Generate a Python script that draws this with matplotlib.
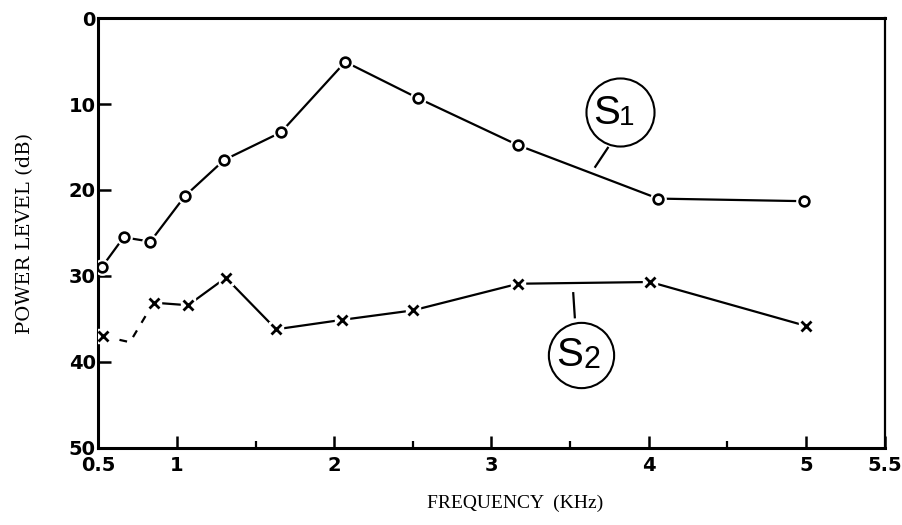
import numpy as np
import matplotlib
matplotlib.use("Agg")
from matplotlib import pyplot as plt

# Frequency (kHz) and power level (dB) for the two sources
s1_freq = [0.52, 0.66, 0.83, 1.05, 1.30, 1.66, 2.07, 2.53, 3.17, 4.06, 4.99]
s1_level = [29.0, 25.5, 26.0, 20.7, 16.5, 13.3, 5.1, 9.3, 14.8, 21.0, 21.3]

s2_freq = [0.53, 0.70, 0.85, 1.07, 1.31, 1.63, 2.05, 2.50, 3.17, 4.01, 5.00]
s2_level = [37.0, 37.7, 33.1, 33.4, 30.2, 36.2, 35.1, 34.0, 30.9, 30.7, 35.8]

x_ticks = [0.5, 1, 2, 3, 4, 5, 5.5]
x_minor = [1.5, 2.5, 3.5, 4.5]
y_ticks = [0, 10, 20, 30, 40, 50]

fig = plt.figure(figsize=(9.02, 5.25), dpi=100)
ax = fig.add_axes([0.1092, 0.1467, 0.8714, 0.819])

ax.set_xlim(0.5, 5.5)
ax.set_ylim(50, 0)

# S1: open circles, line stops short of each marker
ax.plot(s1_freq, s1_level, color="black", lw=1.6, zorder=2)
ax.plot(s1_freq, s1_level, ls="none", marker="o", ms=11, mfc="white",
        mec="white", zorder=3)
ax.plot(s1_freq, s1_level, ls="none", marker="o", ms=7, mfc="white",
        mec="black", mew=1.9, zorder=4)

# S2: crosses, the first two segments are broken
ax.plot(s2_freq[:3], s2_level[:3], color="black", lw=1.6,
        ls=(0, (3.5, 4)), zorder=2)
ax.plot(s2_freq[2:], s2_level[2:], color="black", lw=1.6, zorder=2)
shown = [i for i in range(len(s2_freq)) if i != 1]
ax.plot([s2_freq[i] for i in shown], [s2_level[i] for i in shown],
        ls="none", marker="s", ms=10, mfc="white", mec="white", zorder=3)
ax.plot([s2_freq[i] for i in shown], [s2_level[i] for i in shown],
        ls="none", marker="x", ms=6.5, mec="black", mew=2.0, zorder=4)

# Circled series labels with leader lines
ax.plot([3.74, 3.66], [15.1, 17.3], color="black", lw=1.6, zorder=2)
ax.plot([3.82], [10.9], marker="o", ms=49, mfc="white", mec="black",
        mew=1.5, zorder=5)
ax.text(3.815, 11.0, "S", fontsize=29, ha="right", va="center",
        family="Liberation Sans", zorder=6)
ax.text(3.81, 11.6, "1", fontsize=20, ha="left", va="center",
        family="Liberation Sans", zorder=6)

ax.plot([3.52, 3.53], [32.0, 34.8], color="black", lw=1.6, zorder=2)
ax.plot([3.57], [39.2], marker="o", ms=47, mfc="white", mec="black",
        mew=1.5, zorder=5)
ax.text(3.585, 39.2, "S", fontsize=29, ha="right", va="center",
        family="Liberation Sans", zorder=6)
ax.text(3.585, 39.8, "2", fontsize=22, ha="left", va="center",
        family="Liberation Sans", zorder=6)

# Axes frame and ticks
for side in ["left", "top", "bottom"]:
    ax.spines[side].set_linewidth(2.2)
ax.spines["right"].set_linewidth(1.6)

ax.set_xticks(x_ticks)
ax.set_xticklabels(["0.5", "1", "2", "3", "4", "5", "5.5"])
ax.set_xticks(x_minor, minor=True)
ax.set_yticks(y_ticks)
ax.set_yticklabels([str(v) for v in y_ticks])
ax.tick_params(axis="both", which="major", direction="in", length=9,
               width=1.8, labelsize=14, pad=6)
ax.tick_params(axis="y", which="major", pad=2)
ax.tick_params(axis="x", which="minor", direction="in", length=5, width=1.6)
for lab in ax.get_xticklabels() + ax.get_yticklabels():
    lab.set_fontweight("bold")
    lab.set_family("DejaVu Sans")

ax.set_xlabel("FREQUENCY  (KHz)", family="Liberation Serif", fontsize=14)
ax.xaxis.set_label_coords(0.53, -0.108)
ax.set_ylabel("POWER LEVEL (dB)", family="DejaVu Serif", fontsize=14)
ax.yaxis.set_label_coords(-0.082, 0.5)

fig.savefig("out.png", dpi=100)
